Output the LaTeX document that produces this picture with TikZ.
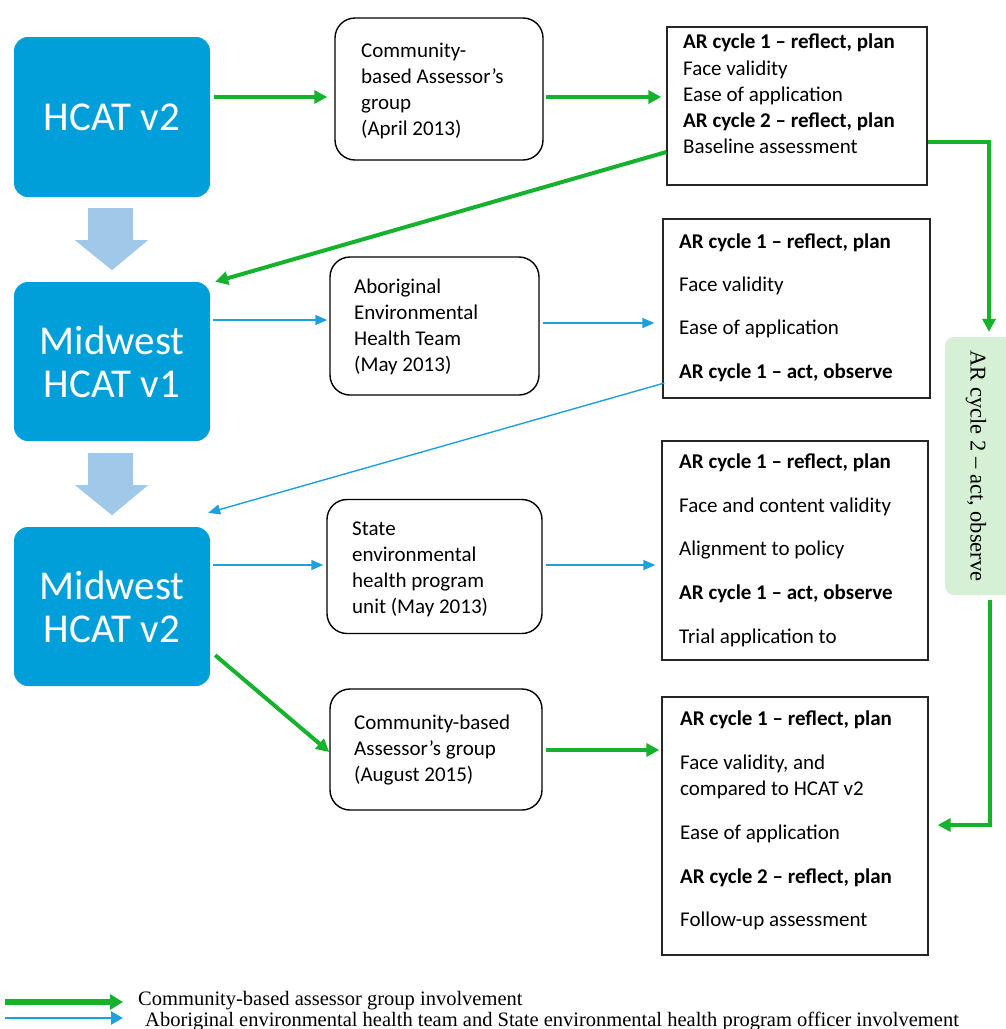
\documentclass[tikz,border=0pt]{standalone}
\usepackage{fontspec}
\setmainfont{Carlito}
\newfontfamily\legfont{Liberation Serif}
\usetikzlibrary{arrows.meta,calc}
\definecolor{boxblue}{RGB}{0,159,218}
\definecolor{blockblue}{RGB}{160,200,232}
\definecolor{agreen}{RGB}{22,178,46}
\definecolor{lblue}{RGB}{30,160,222}
\definecolor{gboxfill}{RGB}{214,240,214}
\begin{document}
\begin{tikzpicture}[x=1pt,y=-1pt,
  bluebox/.style={fill=boxblue, rounded corners=14pt, text=white, font=\fontsize{41}{43}\selectfont, align=center, inner sep=0pt, minimum width=196pt},
  midbox/.style={draw=black, line width=1.4pt, rounded corners=20pt, fill=white, inner sep=0pt},
  rbox/.style={draw=black!85, line width=1.3pt, fill=white, inner sep=0pt},
  txt/.style={font=\fontsize{21}{26}\selectfont, inner sep=0pt, anchor=base west},
  garrow/.style={draw=agreen, line width=4pt, -{Triangle[length=13pt,width=13pt]}},
  barrow/.style={draw=lblue, line width=1.4pt, -{Triangle[length=12pt,width=10pt]}},
  blockarrow/.style={fill=blockblue},
  legtxt/.style={font=\legfont\fontsize{20.5}{22}\selectfont, inner sep=0pt, anchor=base west}]
\useasboundingbox (0,0) rectangle (1006,1029);

% left blue boxes
\node[bluebox, minimum height=160pt] (hcat) at (112,117) {HCAT v2};
\node[bluebox, minimum height=159pt] (mw1) at (112,361.5) {Midwest\\HCAT v1};
\node[bluebox, minimum height=159pt] (mw2) at (112,606.5) {Midwest\\HCAT v2};

% block arrows
\fill[blockarrow, shift={(hcat.south)}] (-24,11) -- (21,11) -- (21,43) -- (36,43) -- (0,73) -- (-37,43) -- (-24,43) -- cycle;
\fill[blockarrow, shift={(mw1.south)}] (-24,12) -- (21,12) -- (21,44) -- (36,44) -- (0,74) -- (-37,44) -- (-24,44) -- cycle;

% middle rounded boxes
\node[midbox, minimum width=208pt, minimum height=142pt] (c1) at (439,89) {};
\node[midbox, minimum width=209pt, minimum height=138pt] (c2) at (434.5,326) {};
\node[midbox, minimum width=215pt, minimum height=134pt] (c3) at (434.5,566.5) {};
\node[midbox, minimum width=212pt, minimum height=121pt] (c4) at (436,749.5) {};

\foreach \yy/\lab [count=\i] in {57/Community-, 83/based Assessor’s, 109/group, 135/(April 2013)}
  \node[txt] (c1t\i) at (361,\yy) {\lab};
\foreach \yy/\lab [count=\i] in {293/Aboriginal, 319/Environmental, 345/Health Team, 371/(May 2013)}
  \node[txt] (c2t\i) at (354,\yy) {\lab};
\foreach \yy/\lab [count=\i] in {535/State, 561/environmental, 587/health program, 613/unit (May 2013)}
  \node[txt] (c3t\i) at (352,\yy) {\lab};
\foreach \yy/\lab [count=\i] in {729/Community-based, 755/Assessor’s group, 781/(August 2015)}
  \node[txt] (c4t\i) at (354,\yy) {\lab};

% right boxes
\node[rbox, minimum width=260pt, minimum height=158pt] (r1) at (797,106) {};
\node[rbox, minimum width=267pt, minimum height=179pt] (r2) at (796.5,308.5) {};
\node[rbox, minimum width=266pt, minimum height=219pt] (r3) at (795,550.5) {};
\node[rbox, minimum width=266pt, minimum height=258pt] (r4) at (795,826) {};

\foreach \yy/\lab [count=\i] in {48/{\bfseries AR cycle 1 – reflect, plan}, 75/Face validity, 101/Ease of application, 127/{\bfseries AR cycle 2 – reflect, plan}, 153/Baseline assessment}
  \node[txt] (r1t\i) at (683,\yy) {\lab};
\foreach \yy/\lab [count=\i] in {248/{\bfseries AR cycle 1 – reflect, plan}, 291/Face validity, 334/Ease of application, 378/{\bfseries AR cycle 1 – act, observe}}
  \node[txt] (r2t\i) at (679,\yy) {\lab};
\foreach \yy/\lab [count=\i] in {468/{\bfseries AR cycle 1 – reflect, plan}, 512/Face and content validity, 555/Alignment to policy, 599/{\bfseries AR cycle 1 – act, observe}, 643/Trial application to}
  \node[txt] (r3t\i) at (679,\yy) {\lab};
\foreach \yy/\lab [count=\i] in {725/{\bfseries AR cycle 1 – reflect, plan}, 769/{Face validity, and}, 795/compared to HCAT v2, 839/Ease of application, 883/{\bfseries AR cycle 2 – reflect, plan}, 926/Follow-up assessment}
  \node[txt] (r4t\i) at (680,\yy) {\lab};

% green side box
\node[fill=gboxfill, rounded corners=9pt, minimum width=70pt, minimum height=258pt, inner sep=0pt] (gb) at (980,466) {};
\node[rotate=-90, font=\legfont\fontsize{22.5}{24}\selectfont, inner sep=0pt] (gbt) at (976,466) {AR cycle 2 – act, observe};

% connectors
\draw[garrow] ([shift={(4,-20)}]hcat.east) -- ([shift={(-7,8)}]c1.west);
\draw[garrow] ([shift={(2,8)}]c1.east) -- ([shift={(-5,-9)}]r1.west);
\draw[garrow] ([shift={(0,46)}]r1.west) -- ([shift={(5,0)}]mw1.north east);
\draw[barrow] ([shift={(3,-41.5)}]mw1.east) -- ([shift={(-2,-6)}]c2.west);
\draw[barrow] ([shift={(3,-3)}]c2.east) -- ([shift={(-8,14.5)}]r2.west);
\draw[barrow] ([shift={(2,74.5)}]r2.west) -- ([shift={(-2,-14)}]mw2.north east);
\draw[barrow] ([shift={(3,-41.5)}]mw2.east) -- ([shift={(-3,-1.5)}]c3.west);
\draw[barrow] ([shift={(3,-1.5)}]c3.east) -- ([shift={(-6,14.5)}]r3.west);
\draw[garrow] ([shift={(5,-31)}]mw2.south east) -- ([shift={(0,2.5)}]c4.west);
\draw[garrow] ([shift={(3,0.5)}]c4.east) -- ([shift={(-2,-76)}]r4.west);
\draw[garrow] ([shift={(0,36)}]r1.east) -| ([shift={(9,-5)}]gb.north);
\draw[garrow] ([shift={(10,5)}]gb.south) |- ([shift={(9,-1)}]r4.east);

% legend
\coordinate (lg1s) at (5,1002);
\coordinate (lg1e) at (123,1002);
\coordinate (lg2s) at (5,1018);
\coordinate (lg2e) at (123,1018);
\draw[draw=agreen, line width=5.5pt, -{Triangle[length=13pt,width=15pt]}] (lg1s) -- (lg1e);
\draw[draw=lblue, line width=2.6pt, -{Triangle[length=12pt,width=13pt]}] (lg2s) -- (lg2e);
\node[legtxt] (lg1) at (138,1005.5) {Community-based assessor group involvement};
\node[legtxt] (lg2) at (145,1026.5) {Aboriginal environmental health team and State environmental health program officer involvement};
\end{tikzpicture}
\end{document}
